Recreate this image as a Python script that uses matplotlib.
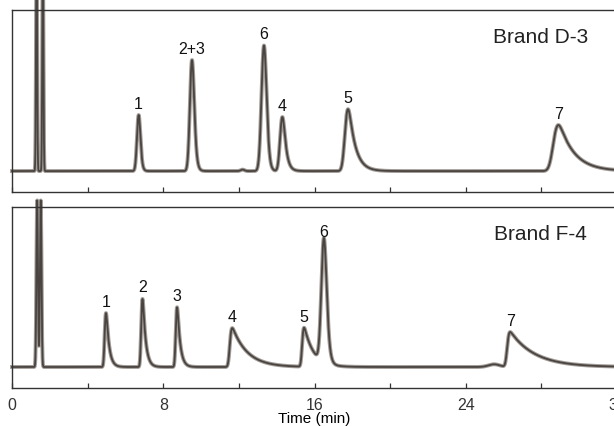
import matplotlib
matplotlib.use('Agg')
import matplotlib.pyplot as plt
import numpy as np

plt.rcParams['font.family'] = ['Liberation Sans', 'DejaVu Sans']

# peak tables: retention time (min), height, sigma, tailing tau
d3_names = ['', '', '1', '2+3', '6', '4', '5', '7', '']
d3_time = [1.30, 1.63, 6.70, 9.52, 13.33, 14.30, 17.77, 28.90, 12.20]
d3_height = [120, 120, 30.8, 61.0, 69.0, 29.7, 34.0, 25.3, 0.8]
d3_sigma = [0.03, 0.03, 0.08, 0.10, 0.12, 0.10, 0.12, 0.18, 0.10]
d3_tau = [0, 0, 0.06, 0.08, 0.08, 0.15, 0.35, 0.80, 0]
d3_base = 11.5

f4_names = ['', '', '1', '2', '3', '4', '5', '6', '7', '']
f4_time = [1.33, 1.52, 4.97, 6.90, 8.73, 11.65, 15.45, 16.50, 26.35, 25.50]
f4_height = [92, 92, 29.8, 37.6, 33.0, 21.5, 21.5, 68.5, 19.3, 1.5]
f4_sigma = [0.04, 0.04, 0.05, 0.05, 0.05, 0.07, 0.06, 0.12, 0.08, 0.30]
f4_tau = [0, 0, 0.15, 0.15, 0.15, 0.80, 0.50, 0.10, 1.30, 0]
f4_base = 11.6

t = np.linspace(0, 32, 8000)


def peak(t0, h, s, tau):
    def shape(c):
        g = np.exp(-0.5 * ((t - c) / s) ** 2)
        if tau > 0:
            step = t[1] - t[0]
            k = np.exp(-np.arange(0, 10 * tau, step) / tau)
            g = np.convolve(g, k)[:len(t)]
        return g
    g = shape(t0)
    shift = t[np.argmax(g)] - t0
    g = shape(t0 - shift)
    return h * g / g.max()


def trace(times, heights, sigmas, taus, base):
    y = np.full_like(t, base)
    for t0, h, s, tau in zip(times, heights, sigmas, taus):
        y += peak(t0, h, s, tau)
    return y


fig = plt.figure(figsize=(6.14, 4.26), dpi=100)
ax1 = fig.add_axes([12 / 614, 234 / 426, 605 / 614, 182 / 426])
ax2 = fig.add_axes([12 / 614, 38 / 426, 605 / 614, 181 / 426])

panels = [(ax1, d3_names, d3_time, d3_height, d3_sigma, d3_tau, d3_base, 'Brand D-3'),
          (ax2, f4_names, f4_time, f4_height, f4_sigma, f4_tau, f4_base, 'Brand F-4')]

for ax, names, times, heights, sigmas, taus, base, title in panels:
    y = trace(times, heights, sigmas, taus, base)
    ax.plot(t, y, color='#a39d99', lw=2.8, clip_on=False)
    ax.plot(t, y, color='#4a4440', lw=1.3, clip_on=False)
    for name, t0, h in zip(names, times, heights):
        if name:
            ax.annotate(name, (t0, base + h), xytext=(0, 2.5), textcoords='offset points',
                        ha='center', va='bottom', fontsize=11.5, color='#111111')
    ax.text(0.873, 0.85, title, transform=ax.transAxes, ha='center', va='center',
            fontsize=15, color='#222222')
    ax.set_xlim(0, 32)
    ax.set_ylim(0, 100)
    ax.set_yticks([])
    ax.set_xticks(np.arange(0, 33, 4))
    ax.tick_params(axis='x', direction='in', length=3.5, width=0.9, colors='#333333',
                   labelsize=11.5, pad=7.5)
    for sp in ax.spines.values():
        sp.set_color('#333333')
        sp.set_linewidth(1.0)

ax1.set_xticklabels([])
ax2.set_xticklabels(['0', '', '8', '', '16', '', '24', '', '32'])
ax2.set_xlabel('Time (min)', fontsize=11, labelpad=-1)

fig.savefig('out.png', dpi=100)
